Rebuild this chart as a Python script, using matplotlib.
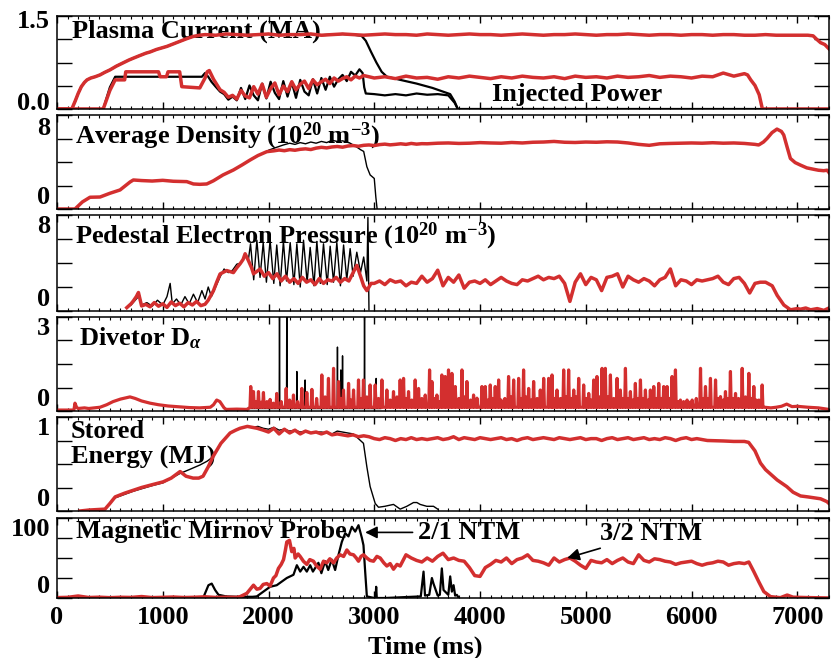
import numpy as np
import matplotlib
matplotlib.use('Agg')
import matplotlib.pyplot as plt
import matplotlib.transforms as mtransforms
from matplotlib.ticker import MultipleLocator

plt.rcParams['font.family'] = 'Liberation Serif'
plt.rcParams['font.weight'] = 'bold'
plt.rcParams['axes.labelweight'] = 'bold'
plt.rcParams['mathtext.fontset'] = 'custom'
plt.rcParams['mathtext.rm'] = 'Liberation Serif:bold'
plt.rcParams['mathtext.it'] = 'Liberation Serif:italic'
plt.rcParams['mathtext.bf'] = 'Liberation Serif:bold'

RED = '#d32f2f'
FS = 19
LW_RED = 2.5

# ---------------- plasma current (MA) ----------------
ip_ramp_t = [0, 140, 170, 200, 230, 260, 284, 320, 360, 407, 450, 500, 560, 620, 680,
             722, 780, 840, 880, 940, 1000, 1040, 1100, 1160, 1220, 1287, 1350]
ip_ramp = [0, 0, 0.12, 0.25, 0.36, 0.43, 0.47, 0.50, 0.52, 0.55, 0.59, 0.63, 0.69, 0.74, 0.79,
           0.82, 0.86, 0.90, 0.92, 0.96, 0.99, 1.01, 1.05, 1.09, 1.13, 1.17, 1.19]
# flat top, every 100 ms from 1400
ip_flat = [1.20, 1.19, 1.21, 1.20, 1.19, 1.20, 1.21, 1.19, 1.20, 1.20,
           1.21, 1.19, 1.20, 1.21, 1.20, 1.19, 1.20, 1.21, 1.20, 1.20,
           1.19, 1.21, 1.20, 1.19, 1.20, 1.21, 1.20, 1.20, 1.19, 1.20,
           1.21, 1.20, 1.19, 1.20, 1.20, 1.21, 1.20, 1.19, 1.20, 1.20,
           1.21, 1.20, 1.19, 1.20, 1.20, 1.19, 1.20, 1.20, 1.19, 1.20,
           1.20, 1.19, 1.19, 1.20, 1.19, 1.19, 1.19, 1.19]
ip_tail_t = [7150, 7180, 7220, 7260, 7300]
ip_tail = [1.18, 1.13, 1.07, 1.04, 0.97]
# reference shot: current quench after 2850 ms
ip_drop_t = [2880, 2920, 2970, 3020, 3070, 3120, 3245, 3400, 3550, 3718, 3760, 3790]
ip_drop = [1.18, 1.10, 0.92, 0.75, 0.60, 0.52, 0.47, 0.41, 0.34, 0.24, 0.12, 0.0]

# injected power
nbi_t = [0, 437, 500, 550, 640, 650, 960, 975, 1035, 1050, 1160, 1180, 1350, 1400, 1420, 1440, 1480, 1542]
nbi = [0, 0, 0.30, 0.47, 0.47, 0.60, 0.60, 0.52, 0.52, 0.60, 0.60, 0.36, 0.34, 0.50, 0.60, 0.62, 0.48, 0.31]
# every 40 ms from 1580
nbi_osc = [0.27, 0.19, 0.22, 0.16, 0.30, 0.21, 0.18, 0.36, 0.24, 0.40, 0.19, 0.33, 0.42, 0.23, 0.37, 0.28, 0.44,
           0.31, 0.40, 0.45, 0.33, 0.47, 0.39, 0.44, 0.48, 0.41, 0.50, 0.45, 0.49, 0.52, 0.47, 0.53, 0.50, 0.54]
# every 100 ms from 3000
nbi_flat = [0.50, 0.52, 0.49, 0.53, 0.50, 0.51, 0.48, 0.52, 0.50, 0.53,
            0.51, 0.49, 0.52, 0.50, 0.53, 0.51, 0.50, 0.52, 0.49, 0.53,
            0.51, 0.52, 0.50, 0.53, 0.51, 0.52, 0.54, 0.51, 0.53, 0.52,
            0.50, 0.53, 0.52, 0.58, 0.53, 0.57]
nbi_tail_t = [6530, 6560, 6600, 6640, 6670, 7300]
nbi_tail = [0.55, 0.47, 0.38, 0.23, 0.0, 0.0]

nbi_ref_t = [0, 437, 500, 550, 1370, 1400, 1430, 1460, 1500, 1542]
nbi_ref = [0, 0, 0.35, 0.52, 0.52, 0.58, 0.52, 0.44, 0.36, 0.28]
nbi_ref_osc = [0.24, 0.15, 0.20, 0.14, 0.34, 0.16, 0.38, 0.22, 0.14, 0.41, 0.17, 0.44, 0.26, 0.16, 0.45, 0.20,
               0.43, 0.18, 0.47, 0.28, 0.22, 0.48, 0.25, 0.50, 0.31, 0.52, 0.36, 0.48, 0.55, 0.45, 0.60, 0.54, 0.64]
nbi_ref_end_t = [2890, 2905, 2920, 3000, 3100, 3200, 3300, 3400, 3500, 3600, 3700, 3760, 3790, 7300]
nbi_ref_end = [0.58, 0.35, 0.25, 0.24, 0.22, 0.24, 0.22, 0.25, 0.23, 0.24, 0.22, 0.10, 0.0, 0.0]

# ---------------- line averaged density ----------------
dens_t = [0, 170, 240, 312, 407, 501, 596, 691, 722, 800, 900, 1000, 1100, 1227, 1290, 1350,
          1416, 1479, 1570, 1668, 1750, 1826, 1900, 1984]
dens = [0, 0, 0.6, 1.0, 1.02, 1.34, 1.62, 2.3, 2.47, 2.42, 2.38, 2.44, 2.36, 2.33, 2.13, 2.10,
        2.13, 2.40, 2.90, 3.32, 3.75, 4.17, 4.55, 4.88]
# every 50 ms from 2050
dens_mid = [4.95, 5.02, 4.96, 5.05, 5.00, 5.08, 5.12, 5.06, 5.18, 5.25, 5.20, 5.28, 5.32, 5.26, 5.36,
            5.40, 5.34, 5.42, 5.45, 5.40, 5.48, 5.52, 5.46, 5.50, 5.55, 5.50, 5.58, 5.52, 5.56]
# every 100 ms from 3500
dens_flat = [5.55, 5.60, 5.62, 5.58, 5.60, 5.65, 5.62, 5.60, 5.66, 5.62,
             5.68, 5.70, 5.75, 5.68, 5.66, 5.70, 5.68, 5.72, 5.70, 5.62,
             5.50, 5.42, 5.55, 5.58, 5.60, 5.62, 5.60, 5.64, 5.60, 5.62,
             5.58, 5.50]
dens_tail_t = [6635, 6680, 6714, 6761, 6808, 6850, 6872, 6903, 6935, 6980, 7029, 7090, 7155, 7200, 7250, 7282, 7300]
dens_tail = [5.45, 5.7, 6.0, 6.5, 6.8, 6.6, 6.3, 5.3, 4.3, 3.95, 3.74, 3.5, 3.38, 3.3, 3.26, 3.3, 3.1]
dens_ref_t = [2000, 2060, 2141, 2200, 2250, 2300, 2350, 2400, 2450, 2500, 2550, 2600, 2650, 2700, 2740, 2772,
              2830, 2870, 2900, 2930, 2961, 3000, 3015, 3027]
dens_ref = [5.0, 5.2, 5.45, 5.6, 5.5, 5.65, 5.55, 5.7, 5.6, 5.75, 5.65, 5.85, 5.75, 5.8, 5.7, 5.6,
            5.3, 5.05, 4.9, 3.6, 2.9, 2.6, 1.0, 0.0]

# ---------------- pedestal electron pressure ----------------
ped_t = [660, 700, 722, 750, 770, 800, 840, 880, 920, 960, 1000, 1040, 1080, 1120, 1160, 1200, 1240, 1280,
         1320, 1360, 1400, 1430, 1479, 1510, 1542, 1605, 1668, 1700, 1731, 1760, 1779, 1810, 1840, 1858,
         1890, 1920, 1960, 2000, 2040, 2080, 2120, 2160, 2200, 2240, 2280, 2320, 2360, 2400, 2440, 2480,
         2520, 2560, 2600, 2640, 2680, 2720, 2760, 2800, 2835, 2870, 2900, 2930, 2970]
ped = [0.28, 0.6, 0.84, 1.2, 1.54, 0.42, 0.55, 0.35, 0.7, 0.4, 0.6, 0.3, 0.75, 0.45, 0.65, 0.35, 0.7, 0.5,
       0.8, 0.45, 0.56, 0.9, 1.68, 2.4, 3.09, 3.37, 3.2, 3.6, 3.93, 4.3, 4.77, 4.2, 3.6, 3.1,
       3.3, 3.5, 2.9, 3.2, 2.7, 3.1, 2.5, 2.9, 2.4, 2.7, 2.3, 2.8, 2.4, 2.6, 2.2, 2.7,
       2.3, 2.6, 2.5, 2.8, 2.4, 2.7, 2.5, 3.2, 3.8, 2.9, 2.1, 1.7, 2.3]
# every 50 ms from 3000
ped_flat = [2.3, 2.5, 2.2, 2.6, 2.4, 2.5, 2.1, 2.4, 2.3, 2.9,
            2.4, 2.7, 3.4, 2.1, 2.8, 2.4, 3.0, 1.9, 2.4, 2.5,
            2.3, 2.6, 2.2, 2.5, 2.8, 2.5, 2.3, 2.2, 2.6, 2.5,
            2.7, 2.9, 2.6, 2.8, 2.7, 2.9, 2.3, 0.8, 2.4, 3.1,
            2.2, 2.8, 2.6, 1.7, 2.8, 2.9, 3.1, 2.0, 2.9, 2.6,
            2.4, 2.7, 2.5, 2.1, 2.6, 2.8, 3.5, 2.1, 2.6, 2.5,
            2.2, 2.6, 2.5, 2.6, 2.7, 2.9, 2.4, 2.2, 2.7, 2.8,
            2.3, 1.5, 2.3, 2.4]
ped_tail_t = [6700, 6763, 6810, 6873, 6936, 7000, 7031, 7080, 7126, 7189, 7252, 7300]
ped_tail = [2.4, 2.1, 1.3, 0.5, 0.1, 0.2, 0.15, 0.25, 0.1, 0.2, 0.05, 0.25]
ped_ref_t = [660, 700, 750, 780, 800, 850, 900, 950, 1000, 1040, 1070, 1090, 1130, 1170, 1210, 1250, 1290,
             1330, 1370, 1400, 1430, 1460, 1500, 1540, 1580, 1620, 1660, 1700, 1740, 1779, 1810, 1830,
             1860, 1890, 1920, 1950, 1980, 2015, 2050, 2078, 2110, 2141, 2170, 2205, 2240, 2268, 2300,
             2331, 2365, 2394, 2430, 2457, 2490, 2520, 2555, 2583, 2615, 2646, 2680, 2710, 2740, 2772,
             2800, 2835, 2870, 2900, 2930, 2940, 2950]
ped_ref = [0.3, 0.5, 1.0, 1.3, 0.5, 0.7, 0.4, 0.9, 0.5, 1.2, 2.3, 0.6, 1.0, 0.5, 1.2, 0.6, 1.4,
           0.7, 1.7, 1.0, 2.0, 1.2, 2.0, 2.8, 3.5, 3.2, 3.4, 3.9, 4.0, 4.6, 4.3, 5.6,
           2.6, 5.9, 2.8, 5.7, 2.4, 5.9, 2.3, 5.5, 2.1, 5.8, 2.5, 5.7, 2.2, 5.6, 2.0,
           5.9, 2.4, 5.3, 2.1, 5.8, 2.3, 5.6, 2.2, 5.4, 2.4, 5.7, 2.1, 5.5, 2.6, 5.2,
           2.9, 4.9, 3.2, 4.5, 2.5, 7.8, 0.1]

# ---------------- divertor D-alpha ----------------
da_t = [0, 160, 170, 185, 200, 260, 300, 350, 407, 470, 530, 600, 650, 690, 740, 800, 880, 960, 1050,
        1164, 1250, 1350, 1450, 1480, 1510, 1540, 1580, 1600, 1700, 1800]
da = [0.03, 0.03, 0.25, 0.12, 0.08, 0.10, 0.08, 0.10, 0.12, 0.20, 0.30, 0.38, 0.42, 0.45, 0.40, 0.32, 0.25,
      0.20, 0.16, 0.13, 0.11, 0.10, 0.12, 0.20, 0.35, 0.30, 0.10, 0.05, 0.06, 0.05]
# ELM bursts (time ms, height)
elms = [(1832, 0.78), (1858, 0.62), (1880, 0.30), (1905, 0.62), (1930, 0.28), (1952, 0.59), (1985, 0.30),
        (2015, 0.37), (2045, 0.25), (2078, 0.56), (2120, 0.30), (2167, 0.72), (2200, 0.35), (2236, 0.51),
        (2275, 0.30), (2315, 0.72), (2362, 0.59), (2410, 0.69), (2455, 0.40), (2504, 1.15), (2535, 0.45),
        (2567, 1.04), (2615, 1.36), (2662, 0.94), (2685, 0.40), (2709, 0.67), (2757, 0.88), (2780, 0.35),
        (2804, 0.67), (2851, 0.99), (2875, 0.40), (2898, 0.99), (2930, 0.45), (2961, 0.83), (3009, 0.83),
        (3040, 0.40), (3072, 0.99), (3119, 0.67), (3150, 0.35), (3182, 0.62), (3215, 0.45), (3245, 0.99),
        (3277, 1.04), (3300, 0.40), (3324, 0.62), (3355, 0.35), (3387, 0.99), (3419, 0.72), (3450, 0.40),
        (3482, 0.51), (3523, 1.31), (3545, 0.94), (3570, 0.40), (3592, 0.51), (3615, 0.30), (3639, 1.15),
        (3671, 1.10), (3702, 1.31), (3734, 1.20), (3766, 0.78), (3800, 0.40), (3829, 1.31), (3855, 0.45),
        (3876, 0.94), (3910, 0.35), (3939, 0.51), (3971, 0.41), (4018, 0.78), (4050, 0.78), (4075, 0.35),
        (4097, 0.83), (4120, 0.40), (4144, 0.78), (4176, 0.99), (4200, 0.35), (4235, 0.40), (4270, 1.10),
        (4295, 0.45), (4318, 0.99), (4365, 1.04), (4390, 0.40), (4412, 1.31), (4435, 0.45), (4460, 0.72),
        (4485, 0.35), (4507, 0.94), (4540, 0.40), (4570, 0.67), (4602, 1.04), (4649, 1.04), (4681, 1.15),
        (4705, 0.40), (4728, 0.67), (4760, 0.40), (4791, 1.31), (4815, 0.45), (4838, 1.31), (4860, 0.40),
        (4886, 0.67), (4910, 0.45), (4933, 1.04), (4980, 0.83), (5005, 0.40), (5028, 0.56), (5050, 0.35),
        (5075, 0.99), (5106, 1.10), (5130, 0.45), (5154, 1.36), (5185, 1.36), (5210, 0.45), (5233, 1.15),
        (5265, 0.40), (5296, 1.04), (5327, 0.67), (5350, 0.40), (5375, 1.36), (5400, 0.40), (5422, 0.62),
        (5445, 0.35), (5469, 0.88), (5495, 0.40), (5517, 0.99), (5540, 0.40), (5564, 0.67), (5590, 0.35),
        (5611, 0.67), (5643, 0.78), (5665, 0.40), (5690, 0.88), (5715, 0.40), (5737, 0.78), (5769, 0.78),
        (5795, 0.40), (5816, 1.10), (5848, 1.31), (5872, 0.30), (5895, 0.35), (5925, 0.30), (5958, 0.35),
        (5980, 0.28), (6006, 0.35), (6045, 0.40), (6085, 1.36), (6110, 0.40), (6132, 0.78), (6155, 0.40),
        (6179, 1.04), (6227, 0.99), (6250, 0.40), (6274, 0.46), (6300, 0.35), (6321, 0.62), (6345, 0.40),
        (6368, 1.26), (6390, 0.40), (6416, 0.56), (6445, 0.40), (6479, 1.36), (6510, 0.45), (6542, 1.20),
        (6565, 0.40), (6589, 0.78), (6612, 0.35), (6637, 0.35), (6668, 0.83)]
elm_floor = 0.12
da_post_t = [6690, 6750, 6800, 6850, 6900, 6950, 7000, 7100, 7200, 7300]
da_post = [0.12, 0.10, 0.12, 0.15, 0.22, 0.14, 0.15, 0.12, 0.10, 0.05]
elms_ref = [(2104, 3.6), (2173, 3.6), (2268, 1.26), (2346, 0.99), (2652, 2.04), (2684, 1.31),
            (2700, 1.76), (2908, 3.6), (3018, 1.04)]
elm_ref_floor = 0.08

# ---------------- stored energy (MJ) ----------------
w_t = [218, 300, 454, 500, 550, 640, 720, 800, 900, 1003, 1080, 1164, 1220, 1287, 1340, 1381, 1430,
       1476, 1550, 1637, 1690, 1731, 1800, 1892]
w = [0.0, 0.01, 0.02, 0.08, 0.15, 0.19, 0.22, 0.25, 0.28, 0.31, 0.35, 0.42, 0.37, 0.35, 0.35, 0.37, 0.47,
     0.58, 0.72, 0.83, 0.86, 0.88, 0.90, 0.88]
# every 50 ms from 1950
w_mid = [0.86, 0.84, 0.88, 0.82, 0.87, 0.83, 0.86, 0.82, 0.85, 0.83, 0.84, 0.82, 0.84, 0.81, 0.82, 0.81,
         0.80, 0.81, 0.79, 0.80, 0.79]
# every 50 ms from 3000
w_flat = [0.77, 0.76, 0.78, 0.77, 0.75, 0.77, 0.76, 0.78, 0.76, 0.77,
          0.76, 0.77, 0.78, 0.76, 0.77, 0.79, 0.76, 0.78, 0.77, 0.76,
          0.78, 0.77, 0.76, 0.77, 0.78, 0.76, 0.77, 0.75, 0.77, 0.78,
          0.76, 0.77, 0.78, 0.77, 0.76, 0.78, 0.77, 0.76, 0.77, 0.78,
          0.76, 0.77, 0.77, 0.75, 0.77, 0.78, 0.76, 0.77, 0.78, 0.76,
          0.77, 0.78, 0.76, 0.77, 0.76, 0.78, 0.77, 0.75, 0.77, 0.78,
          0.76, 0.77, 0.76]
w_tail_t = [6150, 6300, 6400, 6500, 6540, 6600, 6652, 6700, 6750, 6810, 6900, 6960, 7031, 7100, 7220, 7280, 7310]
w_tail = [0.75, 0.745, 0.74, 0.74, 0.73, 0.64, 0.51, 0.44, 0.39, 0.33, 0.26, 0.20, 0.16, 0.15, 0.13, 0.10, 0.07]
w_ref_t = [218, 300, 454, 550, 720, 900, 1003, 1164, 1250, 1353, 1420, 1479, 1550, 1637, 1731, 1800, 1850,
           1900, 1950, 2000, 2050, 2100, 2150, 2200, 2250, 2300, 2350, 2400, 2450, 2500, 2550, 2600, 2650,
           2700, 2750, 2800, 2850, 2898, 2930, 2961, 3009, 3040, 3100, 3140, 3182, 3245, 3308, 3371, 3403,
           3434, 3497, 3560, 3600]
w_ref = [0.0, 0.01, 0.02, 0.14, 0.21, 0.27, 0.30, 0.40, 0.44, 0.49, 0.53, 0.58, 0.72, 0.83, 0.88, 0.90, 0.89,
         0.90, 0.88, 0.87, 0.89, 0.86, 0.87, 0.85, 0.86, 0.84, 0.85, 0.83, 0.84, 0.84, 0.83, 0.82, 0.85,
         0.84, 0.83, 0.82, 0.77, 0.72, 0.47, 0.26, 0.08, 0.04, 0.05, 0.06, 0.07, 0.02, 0.05, 0.09, 0.09,
         0.07, 0.05, 0.05, 0.02]

# ---------------- Mirnov probe amplitude ----------------
# every 100 ms from 0
mir_early = [0.5, 0.8, 2.5, 0.6, 1.0, 0.4, 0.9, 0.7, 1.8, 0.5, 0.8, 1.2, 0.6, 0.9, 1.5, 0.7, 1.0, 0.8]
mir_rise_t = [1732, 1795, 1858, 1890, 1920, 1950, 1984, 2015, 2047, 2070, 2094, 2120, 2142, 2160, 2173,
              2198, 2220, 2240, 2252, 2280, 2299, 2330, 2362, 2390, 2425, 2455, 2488, 2520, 2551, 2580,
              2615, 2645, 2678, 2710, 2741, 2770, 2804, 2830, 2851, 2875, 2898, 2930, 2960, 2993, 3025,
              3056, 3090, 3119, 3150, 3182, 3215, 3245]
mir_rise = [1.7, 5.8, 16, 11, 12, 17, 18, 15, 25, 28, 37, 42, 48, 60, 70,
            72, 58, 62, 50, 55, 52, 46, 42, 48, 46, 40, 36, 46, 44, 49,
            44, 50, 54, 52, 60, 55, 54, 50, 46, 52, 54, 50, 47, 46, 52,
            50, 44, 40, 43, 36, 42, 40]
# every 50 ms from 3300
mir_flat = [54, 50, 47, 45, 50, 46, 52, 56, 48, 50,
            47, 46, 38, 28, 27, 38, 42, 47, 45, 50,
            43, 48, 50, 54, 47, 46, 44, 41, 50, 45,
            48, 50, 46, 41, 37, 47, 45, 44, 48, 43,
            47, 50, 45, 43, 54, 47, 45, 49, 48, 46,
            45, 42, 44, 45, 46, 43, 41, 43, 44, 46,
            45, 41, 43, 44, 43]
mir_tail_t = [6542, 6589, 6637, 6684, 6747, 6840, 6905, 6960, 7100, 7300]
mir_tail = [45, 33, 20, 8, 1.7, 0.4, 3.7, 1.0, 0.5, 0.0]
mir_ref_t = [0, 1385, 1432, 1463, 1495, 1527, 1600, 1700, 1850, 1889, 1952, 2015, 2078, 2120, 2173, 2236,
             2268, 2300, 2331, 2362, 2394, 2420, 2472, 2500, 2535, 2565, 2598, 2630, 2662, 2693, 2725,
             2756, 2788, 2820, 2851, 2883, 2898, 2914, 2930, 3000, 3012, 3018, 3024, 3100, 3440, 3466,
             3480, 3520, 3545, 3560, 3600, 3620, 3639, 3655, 3700, 3718, 3734, 3750, 3765, 3781, 3800]
mir_ref = [0, 1, 16, 18, 10, 4, 2, 1.5, 1.5, 2, 8, 14, 16, 20, 25, 29,
           41, 33, 39, 33, 41, 33, 44, 31, 46, 35, 48, 35, 54, 70, 81,
           77, 89, 83, 91, 75, 66, 33, 2, 0, 0, 14, 0, 0, 2, 33,
           3, 4, 25, 18, 3, 4, 37, 10, 4, 27, 8, 16, 3, 4, 0]


def regular(t0, dt, vals):
    return t0 + dt * np.arange(len(vals)), np.asarray(vals, dtype=float)


def join(*parts):
    ts = np.concatenate([np.asarray(p[0], dtype=float) for p in parts])
    vs = np.concatenate([np.asarray(p[1], dtype=float) for p in parts])
    return ts, vs


def spikes(pairs, floor, half=7):
    t, h = np.array(pairs, dtype=float).T
    tt = np.column_stack([t - half, t, t + half]).ravel()
    vv = np.column_stack([np.full_like(h, floor), h, np.full_like(h, floor)]).ravel()
    return tt, vv


def shift(label, pts):
    off = mtransforms.ScaledTranslation(0, pts / 72, fig.dpi_scale_trans)
    label.set_transform(label.get_transform() + off)


ip_t, ip = join((ip_ramp_t, ip_ramp), regular(1400, 100, ip_flat), (ip_tail_t, ip_tail))
keep = ip_t <= 2850
ipr_t, ipr = join((ip_t[keep], ip[keep]), (ip_drop_t, ip_drop))
pn_t, pn = join((nbi_t, nbi), regular(1580, 40, nbi_osc), regular(3000, 100, nbi_flat), (nbi_tail_t, nbi_tail))
pnr_t, pnr = join((nbi_ref_t, nbi_ref), regular(1580, 40, nbi_ref_osc), (nbi_ref_end_t, nbi_ref_end))

ne_t, ne = join((dens_t, dens), regular(2050, 50, dens_mid), regular(3500, 100, dens_flat),
                (dens_tail_t, dens_tail))
ner_t, ner = join((dens_t, dens), (dens_ref_t, dens_ref))

pe_t, pe = join((ped_t, ped), regular(3000, 50, ped_flat), (ped_tail_t, ped_tail))

dal_t, dal = join((da_t, da), spikes(elms, elm_floor), (da_post_t, da_post))
dar_t, dar = join(([1800], [elm_ref_floor]), spikes(elms_ref, elm_ref_floor, half=3), ([3060], [elm_ref_floor]))

we_t, we = join((w_t, w), regular(1950, 50, w_mid), regular(3000, 50, w_flat), (w_tail_t, w_tail))

mi_t, mi = join(regular(0, 100, mir_early), (mir_rise_t, mir_rise), regular(3300, 50, mir_flat),
                (mir_tail_t, mir_tail))

fig = plt.figure(figsize=(8.34, 6.58), dpi=100)
W, H = 834.0, 658.0
boxes = [(16, 109), (115, 209), (215, 311), (317, 411), (417, 511), (518, 598)]
axes = [fig.add_axes([57 / W, 1 - b / H, 772 / W, (b - t) / H]) for t, b in boxes]

ymax = [1.5, 8, 8, 3, 1, 100]
ylab = [('0.0', '1.5'), ('0', '8'), ('0', '8'), ('0', '3'), ('0', '1'), ('0', '100')]

for i, ax in enumerate(axes):
    ax.set_xlim(0, 7300)
    ax.set_ylim(0, ymax[i])
    ax.xaxis.set_major_locator(MultipleLocator(1000))
    ax.xaxis.set_minor_locator(MultipleLocator(100))
    ax.set_yticks(np.linspace(0, ymax[i], 5))
    ax.set_yticklabels([ylab[i][0], '', '', '', ylab[i][1]])
    ax.tick_params(axis='x', which='major', direction='in', top=True, length=5, width=1)
    ax.tick_params(axis='x', which='minor', direction='in', top=True, length=2.5, width=0.8)
    ax.tick_params(axis='x', labelsize=FS, pad=6, labelbottom=(i == 5))
    ax.tick_params(axis='y', direction='in', right=True, length=11, width=1, labelsize=FS, pad=5)
    for s in ax.spines.values():
        s.set_linewidth(1.1)
    tl = ax.get_yticklabels()
    if i > 0:
        tl[0].set_va('bottom')
        tl[-1].set_va('top')
        if i == 1:
            shift(tl[-1], -1.5)
    else:
        # keep the 0.0 clear of the panel below
        shift(tl[0], 5.5)
        shift(tl[-1], -2)

a1, a2, a3, a4, a5, a6 = axes

a1.plot(ipr_t, ipr, color='k', lw=1.6)
a1.plot(pnr_t, pnr, color='k', lw=1.6)
a1.plot(ip_t, ip, color=RED, lw=LW_RED)
a1.plot(pn_t, pn, color=RED, lw=LW_RED)
a1.text(0.019, 0.771, 'Plasma Current (MA)', transform=a1.transAxes, fontsize=FS, zorder=1)
a1.text(4920, 0.23, 'Injected Power', ha='center', va='center', fontsize=FS, zorder=1)

a2.plot(ner_t, ner, color='k', lw=1.0)
a2.plot(ne_t, ne, color=RED, lw=LW_RED)
a2.text(0.023, 0.699, r'Average Density (10$^{20}$ m$^{-3}$)', transform=a2.transAxes, fontsize=FS, zorder=1)

a3.plot(ped_ref_t, ped_ref, color='k', lw=1.0)
a3.plot(pe_t, pe, color=RED, lw=LW_RED)
a3.text(0.023, 0.705, r'Pedestal Electron Pressure (10$^{20}$ m$^{-3}$)', transform=a3.transAxes,
        fontsize=FS, zorder=1)

a4.plot(dar_t, dar, color='k', lw=1.0)
a4.plot(dal_t, dal, color=RED, lw=2.3)
a4.text(0.029, 0.702, r'Divetor D$_\alpha$', transform=a4.transAxes, fontsize=FS, zorder=1)

a5.plot(w_ref_t, w_ref, color='k', lw=1.0)
a5.plot(we_t, we, color=RED, lw=LW_RED)
a5.text(0.018, 0.78, 'Stored', transform=a5.transAxes, fontsize=FS, zorder=1)
a5.text(0.018, 0.50, 'Energy (MJ)', transform=a5.transAxes, fontsize=FS, zorder=1)

a6.plot(mir_ref_t, mir_ref, color='k', lw=1.6)
a6.plot(mi_t, mi, color=RED, lw=LW_RED)
a6.text(0.0246, 0.746, 'Magnetic Mirnov Probe', transform=a6.transAxes, fontsize=FS, zorder=1)
a6.annotate('2/1 NTM', xy=(2914, 82), xytext=(3415, 82), va='center', ha='left', fontsize=FS,
            arrowprops=dict(arrowstyle='-|>', color='k', lw=1.2, mutation_scale=18, shrinkA=2, shrinkB=0))
a6.annotate('3/2 NTM', xy=(4825, 50), xytext=(5137, 81), va='center', ha='left', fontsize=FS,
            arrowprops=dict(arrowstyle='-|>', color='k', lw=1.2, mutation_scale=18, shrinkA=2, shrinkB=0))
a6.set_xlabel('Time (ms)', fontsize=FS, fontweight='bold')
a6.xaxis.set_label_coords(0.477, -0.47)

fig.savefig('out.png', dpi=100)
